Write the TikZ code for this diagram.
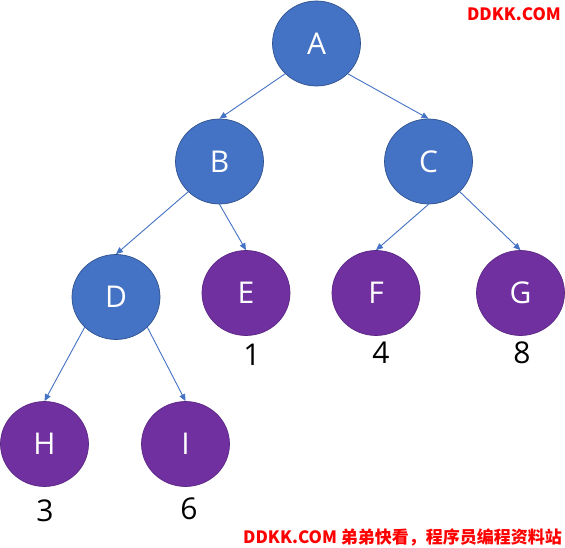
\documentclass[tikz,border=0pt]{standalone}
\usepackage{fontspec}
\setmainfont{Open Sans}
\newfontfamily\cjk{Noto Sans CJK SC}
\usetikzlibrary{arrows.meta,shapes.geometric}
\definecolor{nodeblue}{HTML}{4472C4}
\definecolor{nodeblueline}{HTML}{2F528F}
\definecolor{nodepurple}{HTML}{7030A0}
\definecolor{nodepurpleline}{HTML}{5B2785}
\definecolor{wmred}{HTML}{FF0000}
\begin{document}
\begin{tikzpicture}[x=1pt,y=-1pt,
  treenode/.style={ellipse, minimum width=88pt, minimum height=85pt, inner sep=0pt,
    line width=0.7pt, text=white, font=\fontsize{30}{30}\selectfont},
  bnode/.style={treenode, fill=nodeblue, draw=nodeblueline},
  pnode/.style={treenode, fill=nodepurple, draw=nodepurpleline},
  link/.style={draw=nodeblue, line width=0.9pt, -{Triangle[length=7pt,width=6pt]}},
  weight/.style={inner sep=0pt, text=black, font=\fontsize{30}{30}\selectfont},
  wmtext/.style={inner sep=0pt, text=wmred, font=\cjk\bfseries\fontsize{17}{17}\selectfont}
]
\useasboundingbox (0,0) rectangle (565,548);
\fill[white] (0,0) rectangle (565,548);

\node[bnode] (A) at (316.5,43.5) {A};
\node[bnode] (B) at (219.5,161.5) {B};
\node[bnode] (C) at (428.5,161.5) {C};
\node[bnode] (D) at (116,297) {D};
\node[pnode] (E) at (246,293) {E};
\node[pnode] (F) at (376,293) {F};
\node[pnode] (G) at (520.5,293) {G};
\node[pnode] (H) at (44.5,444) {H};
\node[pnode] (I) at (185.5,444) {I};

\draw[link] (A.south west) -- (B.north);
\draw[link] (A.south east) -- (C.north);
\draw[link] (B.south west) -- (D.north);
\draw[link] (B.south) -- (E.north);
\draw[link] (C.south) -- (F.north);
\draw[link] (C.south east) -- (G.north);
\draw[link] (D.south west) -- (H.north);
\draw[link] (D.south east) -- (I.north);

\node[weight] (w1) at (252,355) {1};
\node[weight] (w4) at (381,353) {4};
\node[weight] (w8) at (522,353) {8};
\node[weight] (w3) at (45,511) {3};
\node[weight] (w6) at (189,509) {6};

\node[wmtext, anchor=east] (wm1) at (561,14) {DDKK.COM};
\node[wmtext, anchor=base east] (wm2) at (562,543.5) {DDKK.COM 弟弟快看，程序员编程资料站};
\end{tikzpicture}
\end{document}
